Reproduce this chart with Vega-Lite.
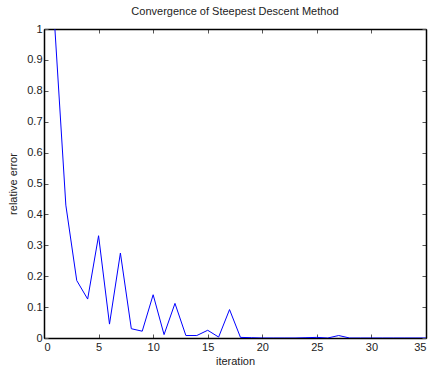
{
  "$schema": "https://vega.github.io/schema/vega-lite/v6.json",
  "width": 382,
  "height": 309,
  "autosize": "none",
  "padding": {"left": 44, "top": 29, "right": 8, "bottom": 34},
  "background": "white",
  "title": {"text": "Convergence of Steepest Descent Method", "fontSize": 11, "fontWeight": "normal", "font": "Liberation Sans", "color": "#222", "offset": 6},
  "config": {
    "view": {"stroke": "black", "strokeWidth": 1},
    "axis": {"labelFont": "Liberation Sans", "titleFont": "Liberation Sans", "labelFontSize": 11, "titleFontSize": 11, "titleFontWeight": "normal", "labelColor": "#222", "titleColor": "#222", "domainColor": "black", "tickColor": "#555", "grid": false, "format": "~g"}
  },
  "data": {"values": [
    {"iteration": 1, "err": 1.0},
    {"iteration": 2, "err": 0.43},
    {"iteration": 3, "err": 0.186},
    {"iteration": 4, "err": 0.126},
    {"iteration": 5, "err": 0.331},
    {"iteration": 6, "err": 0.045},
    {"iteration": 7, "err": 0.275},
    {"iteration": 8, "err": 0.030},
    {"iteration": 9, "err": 0.022},
    {"iteration": 10, "err": 0.140},
    {"iteration": 11, "err": 0.011},
    {"iteration": 12, "err": 0.112},
    {"iteration": 13, "err": 0.008},
    {"iteration": 14, "err": 0.008},
    {"iteration": 15, "err": 0.025},
    {"iteration": 16, "err": 0.003},
    {"iteration": 17, "err": 0.092},
    {"iteration": 18, "err": 0.002},
    {"iteration": 19, "err": 0.001},
    {"iteration": 20, "err": 0.0},
    {"iteration": 21, "err": 0.0},
    {"iteration": 22, "err": 0.0},
    {"iteration": 23, "err": 0.0},
    {"iteration": 24, "err": 0.001},
    {"iteration": 25, "err": 0.002},
    {"iteration": 26, "err": 0.0},
    {"iteration": 27, "err": 0.008},
    {"iteration": 28, "err": 0.0},
    {"iteration": 29, "err": 0.0},
    {"iteration": 30, "err": 0.0},
    {"iteration": 31, "err": 0.0},
    {"iteration": 32, "err": 0.0},
    {"iteration": 33, "err": 0.0},
    {"iteration": 34, "err": 0.0},
    {"iteration": 35, "err": 0.0}
  ]},
  "resolve": {"axis": {"x": "independent", "y": "independent"}},
  "layer": [
    {
      "mark": {"type": "line", "color": "#0000ff", "strokeWidth": 1, "clip": true},
      "encoding": {
        "x": {"field": "iteration", "type": "quantitative", "scale": {"domain": [0, 35], "nice": false, "zero": false},
              "axis": {"orient": "bottom", "title": "iteration", "values": [0,5,10,15,20,25,30,35], "tickSize": -4, "labelPadding": 7, "titlePadding": 3, "domainWidth": 1.5}},
        "y": {"field": "err", "type": "quantitative", "scale": {"domain": [0, 1], "nice": false},
              "axis": {"orient": "left", "title": "relative error", "values": [0,0.1,0.2,0.3,0.4,0.5,0.6,0.7,0.8,0.9,1], "tickSize": -4, "labelPadding": 6, "titlePadding": 8, "domainWidth": 1.5}}
      }
    },
    {
      "mark": {"type": "point", "opacity": 0},
      "encoding": {
        "x": {"field": "iteration", "type": "quantitative",
              "axis": {"orient": "top", "title": null, "labels": false, "values": [0,5,10,15,20,25,30,35], "tickSize": -4, "domainWidth": 1.5}},
        "y": {"field": "err", "type": "quantitative",
              "axis": {"orient": "right", "title": null, "labels": false, "values": [0,0.1,0.2,0.3,0.4,0.5,0.6,0.7,0.8,0.9,1], "tickSize": -4, "domainWidth": 1.5}}
      }
    }
  ]
}
